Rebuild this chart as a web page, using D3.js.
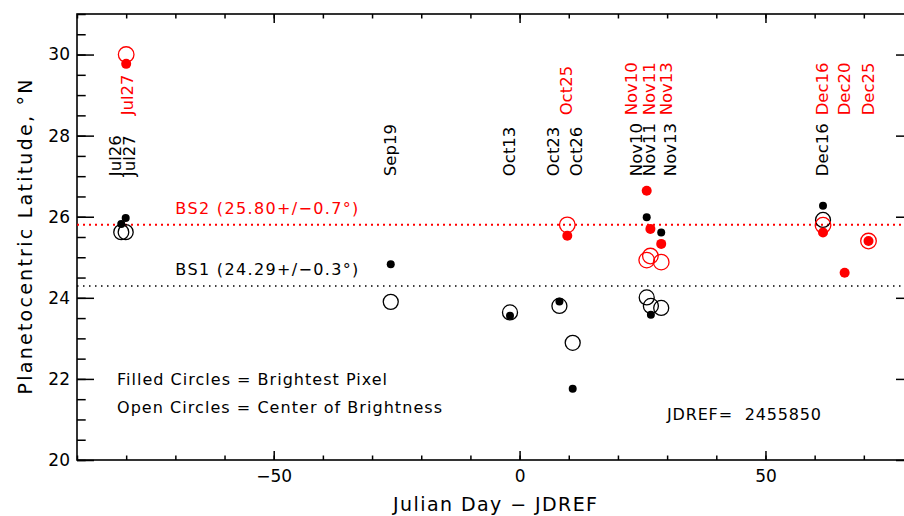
<!DOCTYPE html>
<html>
<head>
<meta charset="utf-8">
<script src="https://cdnjs.cloudflare.com/ajax/libs/d3/7.8.5/d3.min.js"></script>
<style>
  body { margin: 0; background: #fff; }
  svg { display: block; font-family: "DejaVu Sans", sans-serif; }
</style>
</head>
<body>
<svg id="chart"></svg>
<script>
// BS1 (black) - days relative to JDREF and latitudes
var blackDates = ["Jul26", "Jul27", "Sep19", "Oct13", "Oct23", "Oct26", "Nov10", "Nov11", "Nov13", "Dec16"];
var blackDay = [-81.0, -80.1, -26.2, -1.95, 8.1, 10.8, 25.85, 26.7, 28.8, 61.7];
var blackFilled = [25.82, 25.97, 24.83, 23.56, 23.91, 21.76, 25.99, 23.58, 25.61, 26.27];
var blackOpen = [25.62, 25.62, 23.90, 23.64, 23.80, 22.89, 24.01, 23.80, 23.75, 25.92];

// BS2 (red)
var redDates = ["Jul27", "Oct25", "Nov10", "Nov11", "Nov13", "Dec16", "Dec20", "Dec25"];
var redDay = [-80.0, 9.7, 25.85, 26.6, 28.8, 61.7, 66.1, 70.95];
var redFilled = [29.77, 25.53, 26.64, 25.70, 25.33, 25.61, 24.62, 25.40];
var redOpen = [30.00, 25.80, 24.93, 25.03, 24.88, 25.79, null, 25.40];

// where the date labels sit (day of label centre)
var blackLabelDay = [-82.3, -79.5, -26.4, -2.2, 6.8, 11.5, 23.7, 26.3, 30.6, 61.5];
var redLabelDay = [-79.9, 9.4, 22.7, 26.3, 29.8, 61.5, 66.0, 70.9];
var blackLabelLat = 27.0, redLabelLat = 28.5;

// mean latitudes
var refNames = ["BS1", "BS2"];
var refLat = [24.29, 25.80];
var refErr = ["0.3", "0.7"];
var refColor = ["black", "red"];

var xMinor = d3.range(-90, 81, 10), xMajor = [-50, 0, 50];
var yMinor = d3.range(20, 31.01, 0.5), yMajor = [20, 22, 24, 26, 28, 30];

var W = 904, H = 516;
var margin = {top: 14, left: 77};
var pw = 836, ph = 446;

var svg = d3.select('#chart')
    .attr('width', W)
    .attr('height', H);

var g = svg.append('g')
    .attr('transform', 'translate(' + margin.left + ',' + margin.top + ')');

var x = d3.scaleLinear().domain([-90, 80]).range([0, pw]);
var y = d3.scaleLinear().domain([20, 31]).range([ph, 0]);

function styleAxis(sel) {
    sel.select('.domain').remove();
    sel.selectAll('line').attr('stroke', 'black').attr('stroke-width', 1.5);
}

// x axes, bottom + top
g.append('g').attr('transform', 'translate(0,' + ph + ')')
    .call(d3.axisBottom(x).tickValues(xMinor).tickSize(-4.5).tickFormat(''))
    .call(styleAxis);
var xb = g.append('g').attr('transform', 'translate(0,' + ph + ')')
    .call(d3.axisBottom(x).tickValues(xMajor).tickSize(-9).tickPadding(10)
        .tickFormat(function(d) { return d < 0 ? '\u2212' + Math.abs(d) : d; }))
    .call(styleAxis);
xb.selectAll('text').attr('font-size', '17px').attr('font-family', '"DejaVu Sans", sans-serif')
    .attr('fill', 'black').attr('y', 22).attr('dy', 0);
g.append('g')
    .call(d3.axisTop(x).tickValues(xMinor).tickSize(-4.5).tickFormat(''))
    .call(styleAxis);
g.append('g')
    .call(d3.axisTop(x).tickValues(xMajor).tickSize(-9).tickFormat(''))
    .call(styleAxis);

// y axes, left + right
g.append('g')
    .call(d3.axisLeft(y).tickValues(yMinor).tickSize(-8.7).tickFormat(''))
    .call(styleAxis);
var yl = g.append('g')
    .call(d3.axisLeft(y).tickValues(yMajor).tickSize(-17).tickPadding(7))
    .call(styleAxis);
yl.selectAll('text').attr('font-size', '17px').attr('font-family', '"DejaVu Sans", sans-serif')
    .attr('fill', 'black');
g.append('g').attr('transform', 'translate(' + pw + ',0)')
    .call(d3.axisRight(y).tickValues(yMinor).tickSize(-8.7).tickFormat(''))
    .call(styleAxis);
g.append('g').attr('transform', 'translate(' + pw + ',0)')
    .call(d3.axisRight(y).tickValues(yMajor).tickSize(-17).tickFormat(''))
    .call(styleAxis);

g.append('rect')
    .attr('width', pw)
    .attr('height', ph)
    .attr('fill', 'none')
    .attr('stroke', 'black')
    .attr('stroke-width', 1.6);

// reference lines
refLat.forEach(function(v, i) {
    g.append('line')
        .attr('x1', 0).attr('x2', pw)
        .attr('y1', y(v)).attr('y2', y(v))
        .attr('stroke', refColor[i])
        .attr('stroke-width', i == 1 ? 2 : 1.5)
        .attr('stroke-dasharray', i == 1 ? '2,4' : '1.5,4.5');
    g.append('text')
        .attr('x', x(-70))
        .attr('y', y(v) - 11)
        .attr('font-size', '16px')
        .attr('fill', refColor[i])
        .attr('textLength', 183)
        .attr('lengthAdjust', 'spacing')
        .text(refNames[i] + ' (' + v.toFixed(2) + '+/\u2212' + refErr[i] + '\u00b0)');
});

// points
function pts(days, vals) {
    var out = [];
    days.forEach(function(d, i) { if (vals[i] != null) out.push({x: d, y: vals[i]}); });
    return out;
}

g.selectAll('circle.bopen').data(pts(blackDay, blackOpen)).enter().append('circle')
    .attr('class', 'bopen')
    .attr('cx', function(d) { return x(d.x); })
    .attr('cy', function(d) { return y(d.y); })
    .attr('r', 7.5)
    .attr('fill', 'none').attr('stroke', 'black').attr('stroke-width', 1.3);

g.selectAll('circle.bfill').data(pts(blackDay, blackFilled)).enter().append('circle')
    .attr('class', 'bfill')
    .attr('cx', function(d) { return x(d.x); })
    .attr('cy', function(d) { return y(d.y); })
    .attr('r', 4)
    .attr('fill', 'black');

g.selectAll('circle.ropen').data(pts(redDay, redOpen)).enter().append('circle')
    .attr('class', 'ropen')
    .attr('cx', function(d) { return x(d.x); })
    .attr('cy', function(d) { return y(d.y); })
    .attr('r', 7.8)
    .attr('fill', 'none').attr('stroke', 'red').attr('stroke-width', 1.3);

g.selectAll('circle.rfill').data(pts(redDay, redFilled)).enter().append('circle')
    .attr('class', 'rfill')
    .attr('cx', function(d) { return x(d.x); })
    .attr('cy', function(d) { return y(d.y); })
    .attr('r', 5)
    .attr('fill', 'red');

// rotated date labels
function dateLabels(names, days, lat, col) {
    names.forEach(function(n, i) {
        g.append('text')
            .attr('transform', 'translate(' + x(days[i]) + ',' + y(lat) + ')rotate(-90)')
            .attr('dy', '0.36em')
            .attr('font-size', '16.5px')
            .attr('fill', col)
            .text(n);
    });
}
dateLabels(blackDates, blackLabelDay, blackLabelLat, 'black');
dateLabels(redDates, redLabelDay, redLabelLat, 'red');

// notes
g.append('text').attr('x', 40).attr('y', 371).attr('font-size', '16px')
    .attr('textLength', 270).attr('lengthAdjust', 'spacing')
    .text('Filled Circles = Brightest Pixel');
g.append('text').attr('x', 40).attr('y', 399).attr('font-size', '16px')
    .attr('textLength', 325).attr('lengthAdjust', 'spacing')
    .text('Open Circles = Center of Brightness');
g.append('text').attr('x', 590).attr('y', 406).attr('font-size', '16px')
    .attr('textLength', 154).attr('lengthAdjust', 'spacing')
    .style('white-space', 'pre')
    .text('JDREF=  2455850');

// axis titles
g.append('text')
    .attr('x', pw / 2).attr('y', ph + 51)
    .attr('text-anchor', 'middle')
    .attr('font-size', '19px')
    .attr('textLength', 204).attr('lengthAdjust', 'spacing')
    .text('Julian Day \u2212 JDREF');

g.append('text')
    .attr('transform', 'translate(' + (-45) + ',' + (ph / 2) + ')rotate(-90)')
    .attr('text-anchor', 'middle')
    .attr('font-size', '19px')
    .attr('textLength', 315).attr('lengthAdjust', 'spacing')
    .text('Planetocentric Latitude, \u00b0N');
</script>
</body>
</html>
